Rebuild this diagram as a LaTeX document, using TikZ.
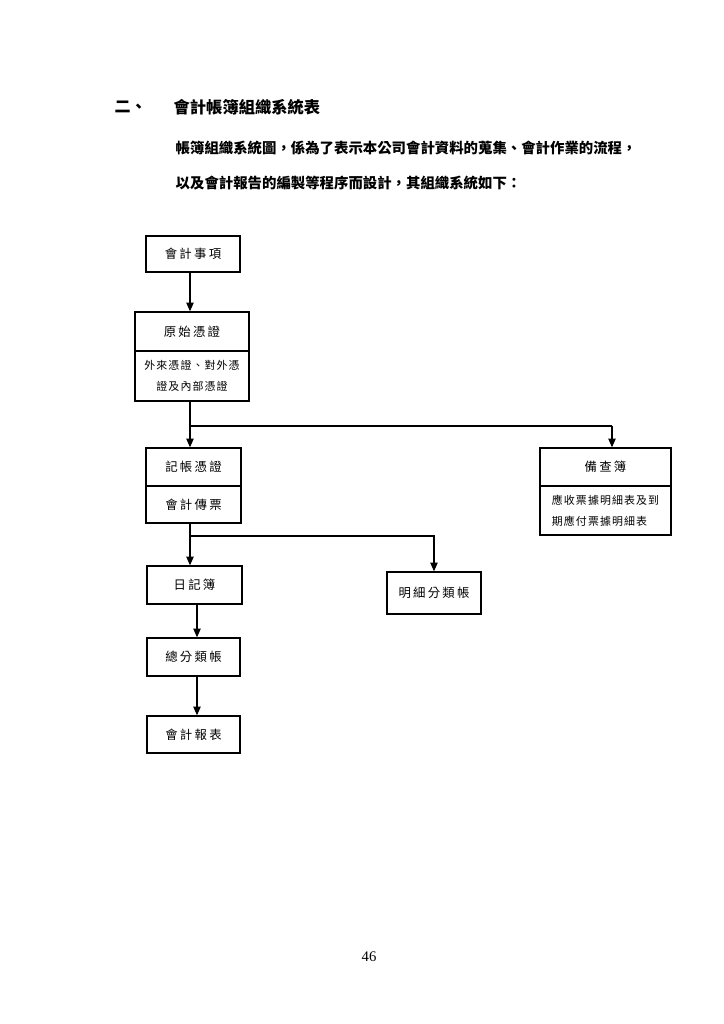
\documentclass[tikz,border=0pt]{standalone}
\usepackage{amsmath,amssymb}
\usepackage{fontspec}
\usepackage{tikz}
\usetikzlibrary{arrows.meta}
\newfontfamily\cjk{Noto Sans CJK TC}
\newfontfamily\boxfont[LetterSpace=18]{Noto Sans CJK TC}
\newfontfamily\smallfont[LetterSpace=10]{Noto Sans CJK TC}
\newfontfamily\numfont{Liberation Serif}

\begin{document}
\begin{tikzpicture}[x=0.75pt,y=0.75pt,yscale=-1,xscale=1,
    box/.style={draw,line width=1pt,inner sep=0pt,align=center,font={\boxfont\fontsize{9.3}{11}\selectfont}},
    sub/.style={draw,line width=1pt,inner sep=0pt,font={\smallfont\fontsize{8.2}{15.75}\selectfont}},
    link/.style={line width=0.8pt,-{Triangle[length=6.5pt,width=5.5pt]}}]
    \useasboundingbox (0,0) rectangle (724,1024);

    % Text Node
    \draw (110,107) node (num) [anchor=west,font={\cjk\bfseries\fontsize{12}{14}\selectfont}] {二、};
    % Text Node
    \draw (169,107) node (title) [anchor=west,font={\cjk\bfseries\fontsize{12.2}{14}\selectfont}] {會計帳簿組織系統表};
    % Text Node
    \draw (171,148) node (para1) [anchor=west,font={\cjk\bfseries\fontsize{10.8}{13}\selectfont}] {帳簿組織系統圖，係為了表示本公司會計資料的蒐集、會計作業的流程，};
    % Text Node
    \draw (171,183) node (para2) [anchor=west,font={\cjk\bfseries\fontsize{10.8}{13}\selectfont}] {以及會計報告的編製等程序而設計，其組織系統如下：};

    %Shape: Rectangle
    \draw (193,254) node (sx) [box,minimum width=70.5pt,minimum height=27pt] {會計事項};
    %Shape: Rectangle
    \draw (192,331.5) node (yspz) [box,minimum width=85.5pt,minimum height=29.25pt] {原始憑證};
    \draw (192,376) node (yspzb) [sub,align=center,minimum width=85.5pt,minimum height=37.5pt] {外來憑證、對外憑\\證及內部憑證};
    %Shape: Rectangle
    \draw (193.5,467) node (jzpz) [box,minimum width=71.25pt,minimum height=28.5pt] {記帳憑證};
    \draw (193.5,504.5) node (jzpzb) [box,minimum width=71.25pt,minimum height=27.75pt] {會計傳票};
    %Shape: Rectangle
    \draw (605.5,467) node (bcb) [box,minimum width=98.25pt,minimum height=28.5pt] {備查簿};
    \draw (605.5,510.5) node (bcbb) [sub,align=left,minimum width=98.25pt,minimum height=36.75pt] {應收票據明細表及到\\期應付票據明細表};
    %Shape: Rectangle
    \draw (194.5,585) node (rjb) [box,minimum width=71.25pt,minimum height=28.5pt] {日記簿};
    %Shape: Rectangle
    \draw (434,593) node (mxflz) [box,minimum width=70.5pt,minimum height=31.5pt] {明細分類帳};
    %Shape: Rectangle
    \draw (193.5,657) node (zflz) [box,minimum width=69.75pt,minimum height=28.5pt] {總分類帳};
    %Shape: Rectangle
    \draw (193.5,734.5) node (kjbb) [box,minimum width=69.75pt,minimum height=27.75pt] {會計報表};

    % Text Node
    \draw (369,957) node (page) [font={\numfont\fontsize{11}{13}\selectfont}] {46};

    %Straight Lines
    \coordinate (trunk) at (190,0);
    \coordinate (fork1) at (190,426);
    \coordinate (fork1r) at (612,426);
    \coordinate (fork2) at (190,536);
    \coordinate (trunk2) at (197,0);
    \draw [link] (sx.south -| trunk) -- (yspz.north -| trunk);
    \draw [line width=0.8pt] (yspzb.south -| fork1) -- (fork1) -- (fork1r);
    \draw [link] (fork1r) -- (bcb.north -| fork1r);
    \draw [link] (fork1) -- (jzpz.north -| fork1);
    \draw [line width=0.8pt] (jzpzb.south -| fork2) -- (fork2);
    \draw [link] (fork2) -| (mxflz.north);
    \draw [link] (fork2) -- (rjb.north -| fork2);
    \draw [link] (rjb.south -| trunk2) -- (zflz.north -| trunk2);
    \draw [link] (zflz.south -| trunk2) -- (kjbb.north -| trunk2);
\end{tikzpicture}
\end{document}
